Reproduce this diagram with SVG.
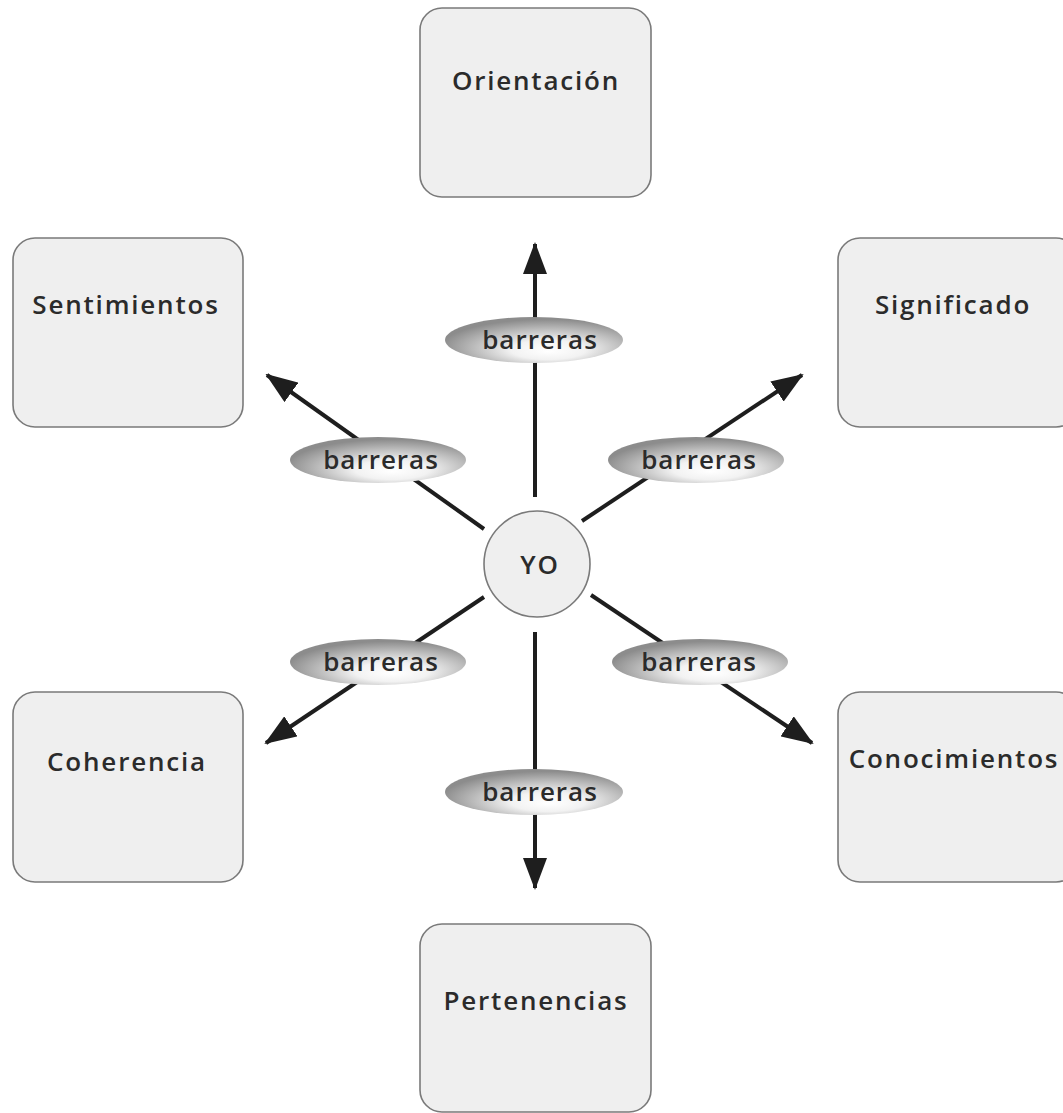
<svg xmlns="http://www.w3.org/2000/svg" width="1063" height="1113" viewBox="0 0 1063 1113">
<style>
.box{fill:#efefef;stroke:#7a7a7a;stroke-width:1.6}
.lbl{font-family:"Open Sans","Liberation Sans",sans-serif;font-weight:600;font-size:26px;letter-spacing:1.8px;fill:#2b2b2b;text-anchor:middle}
.bar{font-family:"Open Sans","Liberation Sans",sans-serif;font-weight:600;font-size:26px;letter-spacing:1px;fill:#2b2b2b;text-anchor:middle}
.ell{fill:url(#g)}
.ln{stroke:#1e1e1e;stroke-width:4;fill:none}
</style>
<defs>
<radialGradient id="g" cx="0.58" cy="0.65" r="0.6" fx="0.58" fy="0.75">
<stop offset="0" stop-color="#ffffff"/>
<stop offset="0.35" stop-color="#f2f2f2"/>
<stop offset="1" stop-color="#8c8c8c"/>
</radialGradient>
<marker id="ah" markerWidth="8" markerHeight="6" refX="7.5" refY="3" orient="auto" markerUnits="strokeWidth">
<path d="M0,0 L8,3 L0,6 Z" fill="#1e1e1e"/>
</marker>
</defs>
<rect width="1063" height="1113" fill="#ffffff"/>
<g id="connectors">
<line class="ln" x1="535" y1="497" x2="535" y2="244" marker-end="url(#ah)"/>
<line class="ln" x1="484" y1="529" x2="267" y2="375" marker-end="url(#ah)"/>
<line class="ln" x1="582" y1="521" x2="802" y2="375" marker-end="url(#ah)"/>
<line class="ln" x1="484" y1="597" x2="266" y2="743" marker-end="url(#ah)"/>
<line class="ln" x1="591" y1="595" x2="812" y2="743" marker-end="url(#ah)"/>
<line class="ln" x1="535" y1="632" x2="535" y2="888" marker-end="url(#ah)"/>
</g>
<g id="barreras-top"><ellipse class="ell" cx="534" cy="340" rx="89" ry="23"/><text class="bar" x="540" y="349">barreras</text></g>
<g id="barreras-upleft"><ellipse class="ell" cx="378" cy="460" rx="88" ry="23"/><text class="bar" x="381" y="469">barreras</text></g>
<g id="barreras-upright"><ellipse class="ell" cx="696" cy="460" rx="88" ry="23"/><text class="bar" x="699" y="469">barreras</text></g>
<g id="barreras-lowleft"><ellipse class="ell" cx="378" cy="662" rx="88" ry="23"/><text class="bar" x="381" y="671">barreras</text></g>
<g id="barreras-lowright"><ellipse class="ell" cx="700" cy="662" rx="88" ry="23"/><text class="bar" x="699" y="671">barreras</text></g>
<g id="barreras-bottom"><ellipse class="ell" cx="534" cy="792" rx="89" ry="23"/><text class="bar" x="540" y="801">barreras</text></g>
<g id="yo"><circle cx="537" cy="564" r="53" fill="#efefef" stroke="#7a7a7a" stroke-width="1.6"/><text class="lbl" x="540" y="574">YO</text></g>
<g id="orientacion"><rect class="box" x="420" y="8" width="231" height="189" rx="22"/><text class="lbl" x="536" y="90">Orientación</text></g>
<g id="sentimientos"><rect class="box" x="13" y="238" width="230" height="189" rx="22"/><text class="lbl" x="126" y="314">Sentimientos</text></g>
<g id="significado"><rect class="box" x="838" y="238" width="240" height="189" rx="22"/><text class="lbl" x="953" y="314">Significado</text></g>
<g id="coherencia"><rect class="box" x="13" y="692" width="230" height="190" rx="22"/><text class="lbl" x="127" y="771">Coherencia</text></g>
<g id="conocimientos"><rect class="box" x="838" y="692" width="240" height="190" rx="22"/><text class="lbl" x="954" y="768">Conocimientos</text></g>
<g id="pertenencias"><rect class="box" x="420" y="924" width="231" height="188" rx="22"/><text class="lbl" x="536" y="1010">Pertenencias</text></g>
</svg>
